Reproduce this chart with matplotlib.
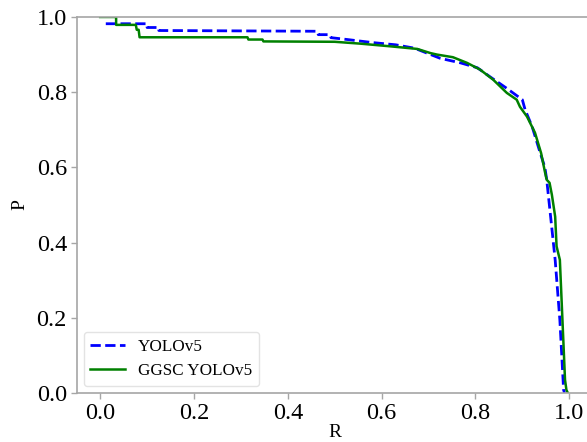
import matplotlib
matplotlib.use("Agg")
import matplotlib.pyplot as plt

plt.rcParams['font.family'] = ['Liberation Serif', 'DejaVu Serif']

# YOLOv5 PR curve (recall, precision)
yolo_r = [0.012, 0.10, 0.10, 0.125, 0.125, 0.463, 0.465, 0.49, 0.492, 0.527, 0.58, 0.63, 0.67,
          0.725, 0.768, 0.804, 0.831, 0.867, 0.90, 0.906, 0.921, 0.936, 0.948,
          0.952, 0.97, 0.98, 0.988, 0.99]
yolo_p = [0.982, 0.982, 0.972, 0.972, 0.964, 0.962, 0.953, 0.953, 0.945, 0.94, 0.932, 0.926, 0.917,
          0.89, 0.878, 0.865, 0.841, 0.81, 0.78, 0.753, 0.708, 0.647, 0.60,
          0.567, 0.354, 0.194, 0.008, 0.0]

# GGSC YOLOv5 PR curve (recall, precision)
ggsc_r = [0.0, 0.034, 0.034, 0.076, 0.078, 0.082, 0.084, 0.314, 0.316, 0.346, 0.348,
          0.50, 0.555, 0.618, 0.676, 0.704, 0.718, 0.752, 0.782, 0.81, 0.838,
          0.867, 0.888, 0.895, 0.91, 0.927, 0.94, 0.948, 0.952, 0.958, 0.963,
          0.97, 0.973, 0.98, 0.991, 0.994, 0.997]
ggsc_p = [1.0, 1.0, 0.979, 0.979, 0.966, 0.966, 0.946, 0.946, 0.94, 0.94, 0.935,
          0.934, 0.929, 0.922, 0.915, 0.904, 0.90, 0.893, 0.878, 0.86, 0.833,
          0.798, 0.78, 0.761, 0.735, 0.692, 0.638, 0.589, 0.567, 0.559, 0.527,
          0.469, 0.39, 0.354, 0.035, 0.008, 0.0]

xticks = [0.0, 0.2, 0.4, 0.6, 0.8, 1.0]
yticks = [0.0, 0.2, 0.4, 0.6, 0.8, 1.0]

fig = plt.figure(figsize=(5.87, 4.42), dpi=100)
ax = fig.add_axes([0.1307, 0.1109, 0.879, 0.8507])

ax.plot(yolo_r, yolo_p, color='blue', linestyle='--', linewidth=2, label='YOLOv5')
ax.plot(ggsc_r, ggsc_p, color='green', linestyle='-', linewidth=1.8, label='GGSC YOLOv5')

ax.set_xlim(-0.05, 1.05)
ax.set_ylim(0.0, 1.0)
ax.set_xticks(xticks)
ax.set_yticks(yticks)
ax.set_xticklabels([f"{v:.1f}" for v in xticks])
ax.set_yticklabels([f"{v:.1f}" for v in yticks])

for s in ax.spines.values():
    s.set_color('#a6a6a6')
    s.set_linewidth(1.2)
ax.tick_params(colors='#a6a6a6', labelcolor='black', labelsize=17.5, length=4, width=1, pad=3)

ax.set_xlabel('R', fontsize=14, labelpad=0)
ax.set_ylabel('P', fontsize=14, labelpad=6)

leg = ax.legend(loc='lower left', fontsize=12.3, frameon=True, fancybox=True,
                borderaxespad=0.4, handlelength=2.0)
leg.get_frame().set_edgecolor('#dddddd')

fig.savefig('out.png', dpi=100)
